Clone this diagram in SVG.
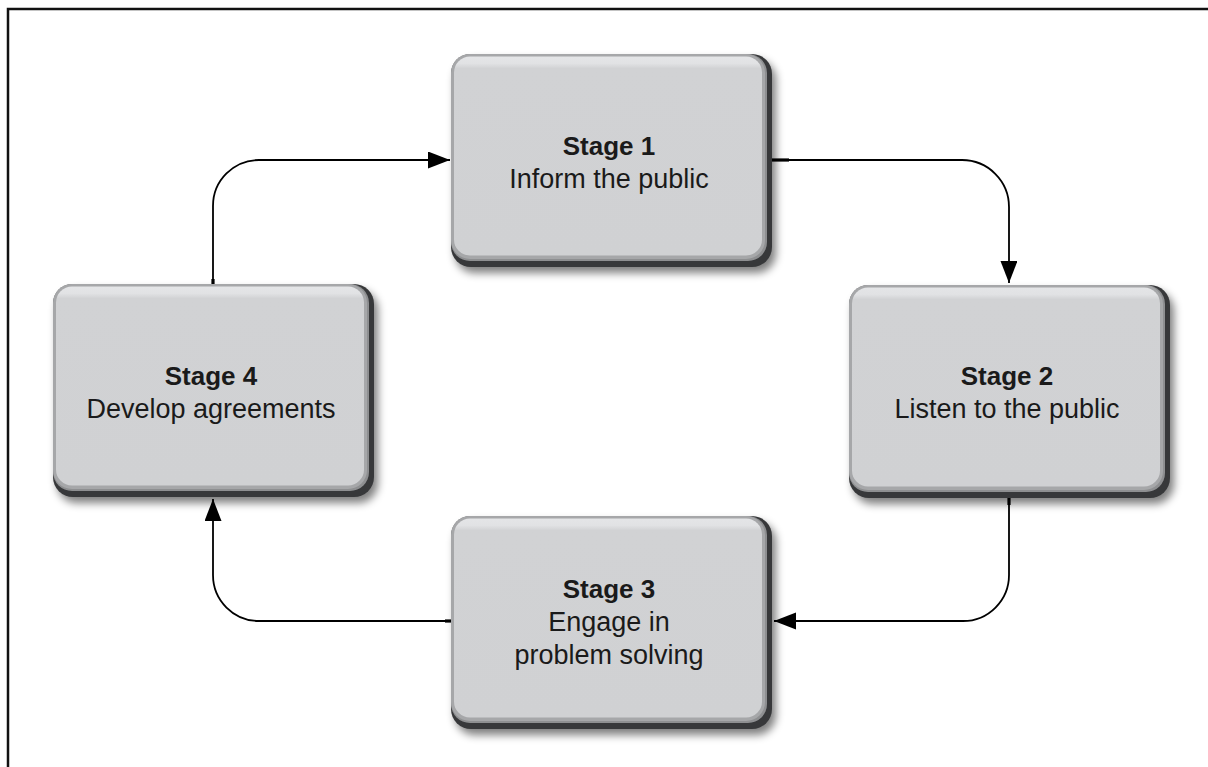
<svg xmlns="http://www.w3.org/2000/svg" xmlns:xlink="http://www.w3.org/1999/xlink" width="1208" height="767" viewBox="0 0 1208 767">
  <style>
    .title { font-family: "Liberation Sans", Arial, sans-serif; font-size: 26px; font-weight: bold; fill: #1a1a1a; text-anchor: middle; }
    .sub { font-family: "Liberation Sans", Arial, sans-serif; font-size: 27px; fill: #1a1a1a; text-anchor: middle; }
    .conn { fill: none; stroke: #000; stroke-width: 1.8; }
    .stub { fill: none; stroke: #000; stroke-width: 3.2; }
  </style>
  <defs>
    <filter id="blur" x="-10%" y="-10%" width="120%" height="120%">
      <feGaussianBlur stdDeviation="4.5"/>
    </filter>
    <linearGradient id="face" x1="0" y1="0" x2="0" y2="1">
      <stop offset="0" stop-color="#e4e5e7"/>
      <stop offset="0.035" stop-color="#e1e2e4"/>
      <stop offset="0.06" stop-color="#d1d2d4"/>
      <stop offset="1" stop-color="#d0d1d3"/>
    </linearGradient>
    <marker id="arrow" markerUnits="userSpaceOnUse" markerWidth="24" markerHeight="18" refX="22" refY="8.5" orient="auto">
      <path d="M0,0 L22,8.5 L0,17 Z" fill="#000"/>
    </marker>
    <g id="boxshape">
      <rect x="4" y="6" width="321" height="213" rx="20" fill="#000" opacity="0.5" filter="url(#blur)"/>
      <rect x="0" y="0" width="321" height="213" rx="20" fill="#37383a"/>
      <rect x="0" y="0" width="316" height="207" rx="19" fill="#8e8f91"/>
      <rect x="0" y="0" width="314" height="205" rx="19" fill="#a6a7a9"/>
      <rect x="3" y="2.5" width="308" height="199" rx="16" fill="url(#face)"/>
    </g>
  </defs>
  <rect width="1208" height="767" fill="#fff"/>
  <rect x="8" y="9" width="1230" height="800" fill="none" stroke="#111" stroke-width="2.5"/>

  <g id="connectors">
    <path class="conn" d="M772,160 H962 A47,47 0 0 1 1009,207 V283" marker-end="url(#arrow)"/>
    <path class="conn" d="M1009,497 V575 A46,46 0 0 1 963,621 H774" marker-end="url(#arrow)"/>
    <path class="conn" d="M451,621 H259 A46,46 0 0 1 213,575 V499" marker-end="url(#arrow)"/>
    <path class="conn" d="M213,284 V206 A46,46 0 0 1 259,160 H450" marker-end="url(#arrow)"/>
    <path class="stub" d="M772,160 H789"/>
    <path class="stub" d="M1009,497 V505"/>
    <path class="stub" d="M451,621 H445"/>
    <path class="stub" d="M213,284 V279"/>
  </g>

  <g id="stage1" transform="translate(451,54)">
    <use xlink:href="#boxshape"/>
    <text class="title" x="158" y="101">Stage 1</text>
    <text class="sub" x="158" y="134">Inform the public</text>
  </g>
  <g id="stage2" transform="translate(849,285)">
    <use xlink:href="#boxshape"/>
    <text class="title" x="158" y="100">Stage 2</text>
    <text class="sub" x="158" y="133">Listen to the public</text>
  </g>
  <g id="stage3" transform="translate(451,516)">
    <use xlink:href="#boxshape"/>
    <text class="title" x="158" y="82">Stage 3</text>
    <text class="sub" x="158" y="115">Engage in</text>
    <text class="sub" x="158" y="148">problem solving</text>
  </g>
  <g id="stage4" transform="translate(53,284)">
    <use xlink:href="#boxshape"/>
    <text class="title" x="158" y="101">Stage 4</text>
    <text class="sub" x="158" y="134">Develop agreements</text>
  </g>
</svg>
